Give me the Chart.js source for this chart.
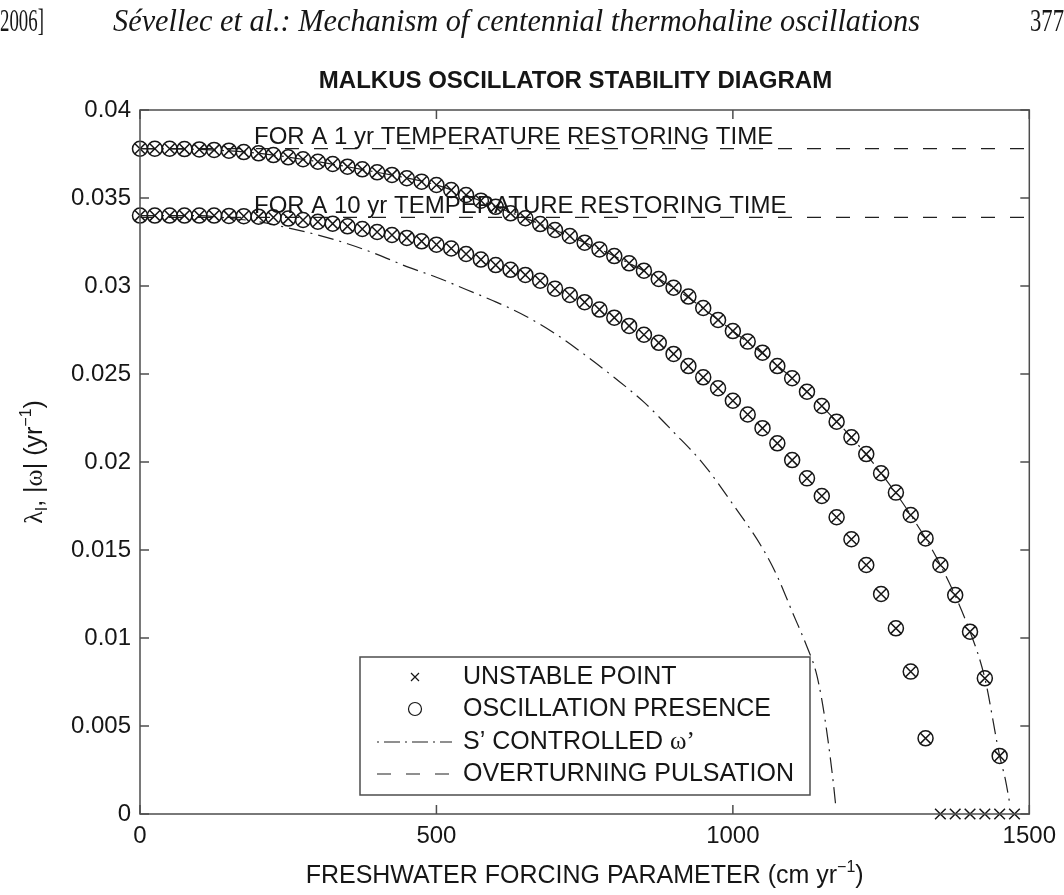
<!DOCTYPE html>
<html>
<head>
<meta charset="utf-8">
<script src="https://cdn.jsdelivr.net/npm/chart.js@4/dist/chart.umd.min.js"></script>
<style>
  html, body { margin: 0; padding: 0; background: #fff; }
  #wrap { width: 1064px; height: 895px; position: relative; }
</style>
</head>
<body>
<div id="wrap"><canvas id="c" width="1064" height="895"></canvas></div>
<script>
// Axis ticks
const xTickValues = [0, 500, 1000, 1500];
const xTickLabels = ['0', '500', '1000', '1500'];
const yTickValues = [0, 0.005, 0.01, 0.015, 0.02, 0.025, 0.03, 0.035, 0.04];
const yTickLabels = ['0', '0.005', '0.01', '0.015', '0.02', '0.025', '0.03', '0.035', '0.04'];

// Oscillating modes, 1 yr temperature restoring time
const forcing1yr = [0, 25, 50, 75, 100, 125, 150, 175, 200, 225, 250, 275, 300, 325, 350, 375, 400, 425, 450, 475,
  500, 525, 550, 575, 600, 625, 650, 675, 700, 725, 750, 775, 800, 825, 850, 875, 900, 925, 950, 975,
  1000, 1025, 1050, 1075, 1100, 1125, 1150, 1175, 1200, 1225, 1250, 1275, 1300, 1325, 1350, 1375, 1400, 1425, 1450];
const freq1yr = [0.0378, 0.0378, 0.0378, 0.03778, 0.03776, 0.03773, 0.03769, 0.03761, 0.03754, 0.03744,
  0.03731, 0.0372, 0.03706, 0.03693, 0.03678, 0.03663, 0.03646, 0.03631, 0.03612, 0.03593,
  0.03574, 0.03545, 0.03517, 0.03485, 0.0345, 0.03413, 0.03385, 0.03352, 0.03318, 0.03284,
  0.03246, 0.03208, 0.0317, 0.03129, 0.03087, 0.0304, 0.0299, 0.0294, 0.02875, 0.02807,
  0.02744, 0.02684, 0.02621, 0.02545, 0.02476, 0.02399, 0.02318, 0.02229, 0.0214, 0.02045,
  0.01936, 0.01826, 0.01699, 0.01566, 0.01415, 0.01244, 0.01036, 0.00771, 0.0033];

// Oscillating modes, 10 yr temperature restoring time
const forcing10yr = [0, 25, 50, 75, 100, 125, 150, 175, 200, 225, 250, 275, 300, 325, 350, 375, 400, 425, 450, 475,
  500, 525, 550, 575, 600, 625, 650, 675, 700, 725, 750, 775, 800, 825, 850, 875, 900, 925, 950, 975,
  1000, 1025, 1050, 1075, 1100, 1125, 1150, 1175, 1200, 1225, 1250, 1275, 1300, 1325];
const freq10yr = [0.034, 0.034, 0.034, 0.034, 0.034, 0.034, 0.03398, 0.03397, 0.03394, 0.0339,
  0.03383, 0.03375, 0.03365, 0.03354, 0.03339, 0.03324, 0.03307, 0.0329, 0.03273, 0.03254,
  0.03235, 0.03213, 0.03182, 0.0315, 0.03119, 0.03092, 0.03063, 0.0303, 0.02985, 0.02949,
  0.02908, 0.02866, 0.0282, 0.02773, 0.02723, 0.02677, 0.02614, 0.02545, 0.02481, 0.02419,
  0.02348, 0.0227, 0.02192, 0.02106, 0.02011, 0.01907, 0.01807, 0.01686, 0.01561, 0.01415,
  0.0125, 0.01055, 0.00809, 0.0043];

// Unstable points without oscillation
const unstableForcing = [1350, 1375, 1400, 1425, 1450, 1475];
const unstableFreq = [0, 0, 0, 0, 0, 0];

// S' controlled omega'
const sCtrlForcing1yr = [0, 100, 200, 300, 400, 500, 600, 700, 800, 900, 1000, 1100, 1200, 1250, 1300, 1350, 1400, 1425, 1450, 1460, 1467];
const sCtrlFreq1yr = [0.0378, 0.03776, 0.03754, 0.03706, 0.03646, 0.03574, 0.0345, 0.03318, 0.0317, 0.0299, 0.02744,
  0.02476, 0.0214, 0.01936, 0.01699, 0.01415, 0.01036, 0.00771, 0.0033, 0.0019, 0.0006];
const sCtrlForcing10yr = [0, 100, 150, 200, 250, 300, 350, 400, 450, 500, 550, 600, 650, 700, 750, 800, 850, 900, 950,
  1000, 1050, 1075, 1100, 1125, 1140, 1150, 1160, 1170, 1174];
const sCtrlFreq10yr = [0.034, 0.034, 0.03385, 0.03365, 0.0333, 0.0329, 0.0324, 0.0318, 0.0311, 0.0305, 0.0298, 0.0291,
  0.0283, 0.0273, 0.0261, 0.0248, 0.0234, 0.0217, 0.0199, 0.0176, 0.0151, 0.0135, 0.0115, 0.0095, 0.0081, 0.0065,
  0.0043, 0.0016, 0.0003];

// Overturning pulsation
const pulsationForcing = [0, 1500];
const pulsation1yr = [0.0378, 0.0378];
const pulsation10yr = [0.0339, 0.0339];

const SANS = '"Liberation Sans", Arial, Helvetica, sans-serif';
const SERIF = '"Liberation Serif", "Times New Roman", serif';
const INK = '#161616';
const FRAME = '#4d4d4d';
const DASH_DOT = [16, 6, 2, 6];
const DASHED = [14, 15];

const pts = (xs, ys) => xs.map((x, i) => ({ x: x, y: ys[i] }));

function markerSet(xs, ys, style) {
  return {
    data: pts(xs, ys), showLine: false, pointStyle: style, pointRadius: 7.5,
    pointBorderColor: INK, pointBackgroundColor: 'rgba(0,0,0,0)', pointBorderWidth: 1.5,
    borderColor: INK, clip: false
  };
}
function lineSet(xs, ys, dash) {
  return {
    data: pts(xs, ys), showLine: true, pointRadius: 0, borderColor: '#202020', borderWidth: 1.2,
    borderDash: dash, cubicInterpolationMode: 'monotone', fill: false, clip: false
  };
}

function drawRuns(ctx, runs, x, y, align) {
  let total = 0;
  runs.forEach(r => { ctx.font = r.font; r.w = ctx.measureText(r.text).width; total += r.w; });
  let cx = align === 'center' ? x - total / 2 : x;
  ctx.textAlign = 'left';
  ctx.textBaseline = 'alphabetic';
  runs.forEach(r => { ctx.font = r.font; ctx.fillText(r.text, cx, y + (r.dy || 0)); cx += r.w; });
}

// running head in a condensed serif, each part squeezed into its own span
function fitText(ctx, text, x, y, width, font) {
  ctx.save();
  ctx.font = font;
  ctx.textAlign = 'left';
  ctx.textBaseline = 'alphabetic';
  const w = ctx.measureText(text).width;
  ctx.translate(x, y);
  ctx.scale(width / w, 1);
  ctx.fillText(text, 0, 0);
  ctx.restore();
}
function drawHeader(ctx) {
  ctx.save();
  ctx.fillStyle = INK;
  fitText(ctx, '2006]', 0, 31, 44, '31px ' + SERIF);
  fitText(ctx, 'Sévellec et al.: Mechanism of centennial thermohaline oscillations', 113, 31, 807, 'italic 31px ' + SERIF);
  fitText(ctx, '377', 1030, 31, 34, '31px ' + SERIF);
  ctx.restore();
}

const decorations = {
  id: 'decorations',
  afterDraw(chart) {
    const ctx = chart.ctx;
    const a = chart.chartArea;
    const xs = chart.scales.x, ys = chart.scales.y;
    ctx.save();

    drawHeader(ctx);

    // title
    ctx.fillStyle = INK;
    ctx.font = 'bold 24px ' + SANS;
    ctx.textAlign = 'center';
    ctx.textBaseline = 'alphabetic';
    ctx.fillText('MALKUS OSCILLATOR STABILITY DIAGRAM', 575.5, 88);

    // frame and inward ticks
    ctx.strokeStyle = FRAME;
    ctx.lineWidth = 1.5;
    ctx.setLineDash([]);
    ctx.strokeRect(a.left, a.top, a.right - a.left, a.bottom - a.top);
    ctx.beginPath();
    xTickValues.forEach(v => {
      const p = xs.getPixelForValue(v);
      ctx.moveTo(p, a.bottom); ctx.lineTo(p, a.bottom - 9);
      ctx.moveTo(p, a.top); ctx.lineTo(p, a.top + 9);
    });
    yTickValues.forEach(v => {
      const p = ys.getPixelForValue(v);
      ctx.moveTo(a.left, p); ctx.lineTo(a.left + 9, p);
      ctx.moveTo(a.right, p); ctx.lineTo(a.right - 9, p);
    });
    ctx.stroke();

    // curve annotations
    ctx.fillStyle = INK;
    ctx.font = '24px ' + SANS;
    ctx.textAlign = 'left';
    ctx.fillText('FOR A 1 yr TEMPERATURE RESTORING TIME', 254, 143.5);
    ctx.fillText('FOR A 10 yr TEMPERATURE RESTORING TIME', 254, 212.5);

    // axis titles
    drawRuns(ctx, [
      { text: 'FRESHWATER FORCING PARAMETER (cm yr', font: '25px ' + SANS },
      { text: '\u22121', font: '16px ' + SANS, dy: -11 },
      { text: ')', font: '25px ' + SANS }
    ], (a.left + a.right) / 2, 883, 'center');

    ctx.save();
    ctx.translate(42, (a.top + a.bottom) / 2);
    ctx.rotate(-Math.PI / 2);
    drawRuns(ctx, [
      { text: 'λ', font: '26px ' + SERIF },
      { text: 'I', font: '16px ' + SANS, dy: 5 },
      { text: ', |', font: '25px ' + SANS },
      { text: 'ω', font: '26px ' + SERIF },
      { text: '| (yr', font: '25px ' + SANS },
      { text: '\u22121', font: '16px ' + SANS, dy: -11 },
      { text: ')', font: '25px ' + SANS }
    ], 0, 0, 'center');
    ctx.restore();

    // legend
    const L = { left: 360, top: 657, right: 810, bottom: 795 };
    ctx.fillStyle = '#fff';
    ctx.fillRect(L.left, L.top, L.right - L.left, L.bottom - L.top);
    ctx.strokeStyle = FRAME;
    ctx.lineWidth = 1.5;
    ctx.strokeRect(L.left, L.top, L.right - L.left, L.bottom - L.top);
    const rows = [677, 709, 742, 774];
    const mx = 415;
    ctx.strokeStyle = INK;
    ctx.lineWidth = 1.2;
    ctx.beginPath();
    ctx.moveTo(mx - 4, rows[0] - 4); ctx.lineTo(mx + 4, rows[0] + 4);
    ctx.moveTo(mx + 4, rows[0] - 4); ctx.lineTo(mx - 4, rows[0] + 4);
    ctx.stroke();
    ctx.beginPath();
    ctx.arc(mx, rows[1], 6.5, 0, Math.PI * 2);
    ctx.stroke();
    ctx.strokeStyle = '#202020';
    ctx.setLineDash([2, 5, 16, 5]);
    ctx.beginPath(); ctx.moveTo(377, rows[2]); ctx.lineTo(452, rows[2]); ctx.stroke();
    ctx.setLineDash(DASHED);
    ctx.beginPath(); ctx.moveTo(377, rows[3]); ctx.lineTo(452, rows[3]); ctx.stroke();
    ctx.setLineDash([]);
    ctx.fillStyle = INK;
    ctx.font = '25px ' + SANS;
    ctx.textBaseline = 'middle';
    ctx.fillText('UNSTABLE POINT', 463, rows[0]);
    ctx.fillText('OSCILLATION PRESENCE', 463, rows[1]);
    ctx.fillText('S\u2019 CONTROLLED ', 463, rows[2]);
    const w = ctx.measureText('S\u2019 CONTROLLED ').width;
    ctx.font = '25px ' + SERIF;
    ctx.fillText('ω\u2019', 463 + w, rows[2]);
    ctx.font = '25px ' + SANS;
    ctx.fillText('OVERTURNING PULSATION', 463, rows[3]);

    ctx.restore();
  }
};

Chart.defaults.font.family = SANS;
Chart.defaults.color = INK;

new Chart(document.getElementById('c'), {
  type: 'scatter',
  data: {
    datasets: [
      markerSet(forcing1yr, freq1yr, 'circle'),
      markerSet(forcing1yr, freq1yr, 'crossRot'),
      markerSet(forcing10yr, freq10yr, 'circle'),
      markerSet(forcing10yr, freq10yr, 'crossRot'),
      markerSet(unstableForcing, unstableFreq, 'crossRot'),
      lineSet(sCtrlForcing1yr, sCtrlFreq1yr, DASH_DOT),
      lineSet(sCtrlForcing10yr, sCtrlFreq10yr, DASH_DOT),
      lineSet(pulsationForcing, pulsation1yr, DASHED),
      lineSet(pulsationForcing, pulsation10yr, DASHED)
    ]
  },
  options: {
    responsive: false,
    animation: false,
    devicePixelRatio: 1,
    layout: { padding: { top: 110, right: 34, bottom: 0, left: 0 } },
    plugins: { legend: { display: false }, title: { display: false }, tooltip: { enabled: false } },
    events: [],
    scales: {
      x: {
        type: 'linear', min: 0, max: 1500,
        grid: { display: false, drawTicks: false },
        border: { display: false },
        afterBuildTicks(scale) { scale.ticks = xTickValues.map(v => ({ value: v })); },
        afterFit(scale) { scale.height = 81; },
        ticks: {
          autoSkip: false, maxRotation: 0, padding: 8, color: INK,
          font: { size: 24, family: SANS },
          callback(value, i) { return xTickLabels[i]; }
        }
      },
      y: {
        type: 'linear', min: 0, max: 0.04,
        grid: { display: false, drawTicks: false },
        border: { display: false },
        afterBuildTicks(scale) { scale.ticks = yTickValues.map(v => ({ value: v })); },
        afterFit(scale) { scale.width = 140; },
        ticks: {
          autoSkip: false, padding: 9, color: INK,
          font: { size: 24, family: SANS },
          callback(value, i) { return yTickLabels[i]; }
        }
      }
    }
  },
  plugins: [decorations]
});
</script>
</body>
</html>
